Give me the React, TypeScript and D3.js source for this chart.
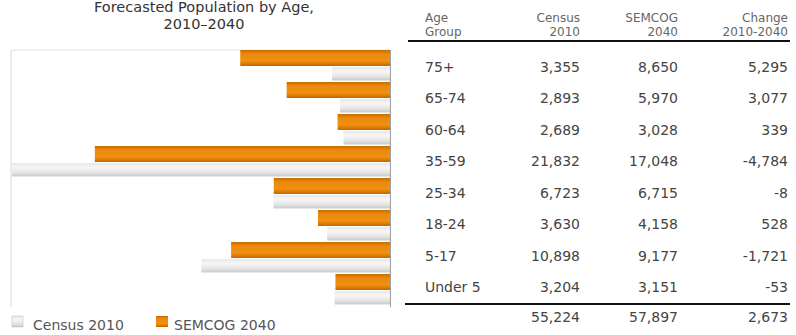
import React from "react";
import * as d3 from "d3";

const ageGroups = ["75+", "65-74", "60-64", "35-59", "25-34", "18-24", "5-17", "Under 5"];
const census2010 = [3355, 2893, 2689, 21832, 6723, 3630, 10898, 3204];
const semcog2040 = [8650, 5970, 3028, 17048, 6715, 4158, 9177, 3151];
const change = [5295, 3077, 339, -4784, -8, 528, -1721, -53];
const titleLines = ["Forecasted Population by Age,", "2010\u20132040"];
const headerLines = [
  ["Age", "Group"],
  ["Census", "2010"],
  ["SEMCOG", "2040"],
  ["Change", "2010-2040"],
];
const legendLabels = ["Census 2010", "SEMCOG 2040"];

const W = 796;
const H = 335;
const FONT = "'DejaVu Sans', Verdana, sans-serif";

export default function App() {
  const plot = { left: 11, right: 390, top: 50, bottom: 306 };
  const x = d3.scaleLinear().domain([0, 21832]).range([plot.right, plot.left + 1]);
  const y = d3.scaleBand<string>().domain(ageGroups).range([plot.top, plot.bottom]).paddingInner(0).paddingOuter(0);
  const bw = y.bandwidth();
  const orangeH = bw * 0.5;
  const grayH = bw * 0.42;

  const fmt = d3.format(",");
  const fmtSigned = (v: number) => (v < 0 ? "-" + fmt(-v) : fmt(v));

  const colRight = [0, 580, 678, 788];
  const labelX = 425;
  const rowY = d3.scaleBand<string>().domain(ageGroups).range([51, 303]);
  const totals = [d3.sum(census2010), d3.sum(semcog2040), d3.sum(change)];

  return (
    <svg width={W} height={H} style={{ position: "absolute", left: 0, top: 0, background: "#fff" }} fontFamily={FONT}>
      <defs>
        <linearGradient id="gOrange" x1="0" y1="0" x2="0" y2="1">
          <stop offset="0" stopColor="#c86a00" />
          <stop offset="0.25" stopColor="#ec8a0c" />
          <stop offset="0.7" stopColor="#f0900e" />
          <stop offset="1" stopColor="#c46500" />
        </linearGradient>
        <linearGradient id="gGray" x1="0" y1="0" x2="0" y2="1">
          <stop offset="0" stopColor="#e8e8e8" />
          <stop offset="0.35" stopColor="#f6f6f6" />
          <stop offset="0.75" stopColor="#e2e2e2" />
          <stop offset="1" stopColor="#c8c8c8" />
        </linearGradient>
      </defs>

      {/* Title */}
      {titleLines.map((t, i) => (
        <text key={t} x={204} y={12 + i * 17} textAnchor="middle" fontSize={14.5} fill="#333">
          {t}
        </text>
      ))}

      {/* Plot frame */}
      <line x1={plot.left} x2={plot.right} y1={plot.top} y2={plot.top} stroke="#e2e2e2" />
      <line x1={plot.left} x2={plot.left} y1={plot.top} y2={plot.bottom + 1} stroke="#d8d8d8" />

      {/* Bars */}
      {ageGroups.map((g, i) => {
        const y0 = y(g)!;
        return (
          <g key={g}>
            <rect
              x={x(semcog2040[i])}
              y={y0}
              width={plot.right - x(semcog2040[i])}
              height={orangeH}
              fill="url(#gOrange)"
            />
            <rect
              x={x(census2010[i])}
              y={y0 + orangeH + 1}
              width={plot.right - x(census2010[i])}
              height={grayH}
              fill="url(#gGray)"
            />
          </g>
        );
      })}
      <line x1={plot.right + 0.5} x2={plot.right + 0.5} y1={plot.top} y2={plot.bottom + 1} stroke="#a0a0a0" />

      {/* Legend */}
      <rect x={12} y={316} width={11} height={11} fill="url(#gGray)" stroke="#bbb" strokeWidth={0.5} />
      <text x={33} y={330} fontSize={14} fill="#555">{legendLabels[0]}</text>
      <rect x={156} y={316} width={12} height={11} fill="url(#gOrange)" />
      <text x={174} y={330} fontSize={14} fill="#555">{legendLabels[1]}</text>

      {/* Table header */}
      {headerLines.map((lines, c) =>
        lines.map((t, j) => (
          <text
            key={c + "-" + j}
            x={c === 0 ? labelX : colRight[c]}
            y={22 + j * 14}
            textAnchor={c === 0 ? "start" : "end"}
            fontSize={12}
            fill="#666"
          >
            {t}
          </text>
        ))
      )}
      <line x1={408} x2={790} y1={41} y2={41} stroke="#111" strokeWidth={2} />

      {/* Table rows */}
      {ageGroups.map((g, i) => {
        const cy = rowY(g)! + rowY.bandwidth() / 2 + 5;
        return (
          <g key={"r" + g} fontSize={14} fill="#444">
            <text x={labelX} y={cy}>{g}</text>
            <text x={colRight[1]} y={cy} textAnchor="end">{fmt(census2010[i])}</text>
            <text x={colRight[2]} y={cy} textAnchor="end">{fmt(semcog2040[i])}</text>
            <text x={colRight[3]} y={cy} textAnchor="end">{fmtSigned(change[i])}</text>
          </g>
        );
      })}
      <line x1={405} x2={790} y1={304} y2={304} stroke="#111" strokeWidth={2} />
      <g fontSize={14} fill="#444">
        {totals.map((v, k) => (
          <text key={"t" + k} x={colRight[k + 1]} y={322} textAnchor="end">
            {fmtSigned(v)}
          </text>
        ))}
      </g>
    </svg>
  );
}
